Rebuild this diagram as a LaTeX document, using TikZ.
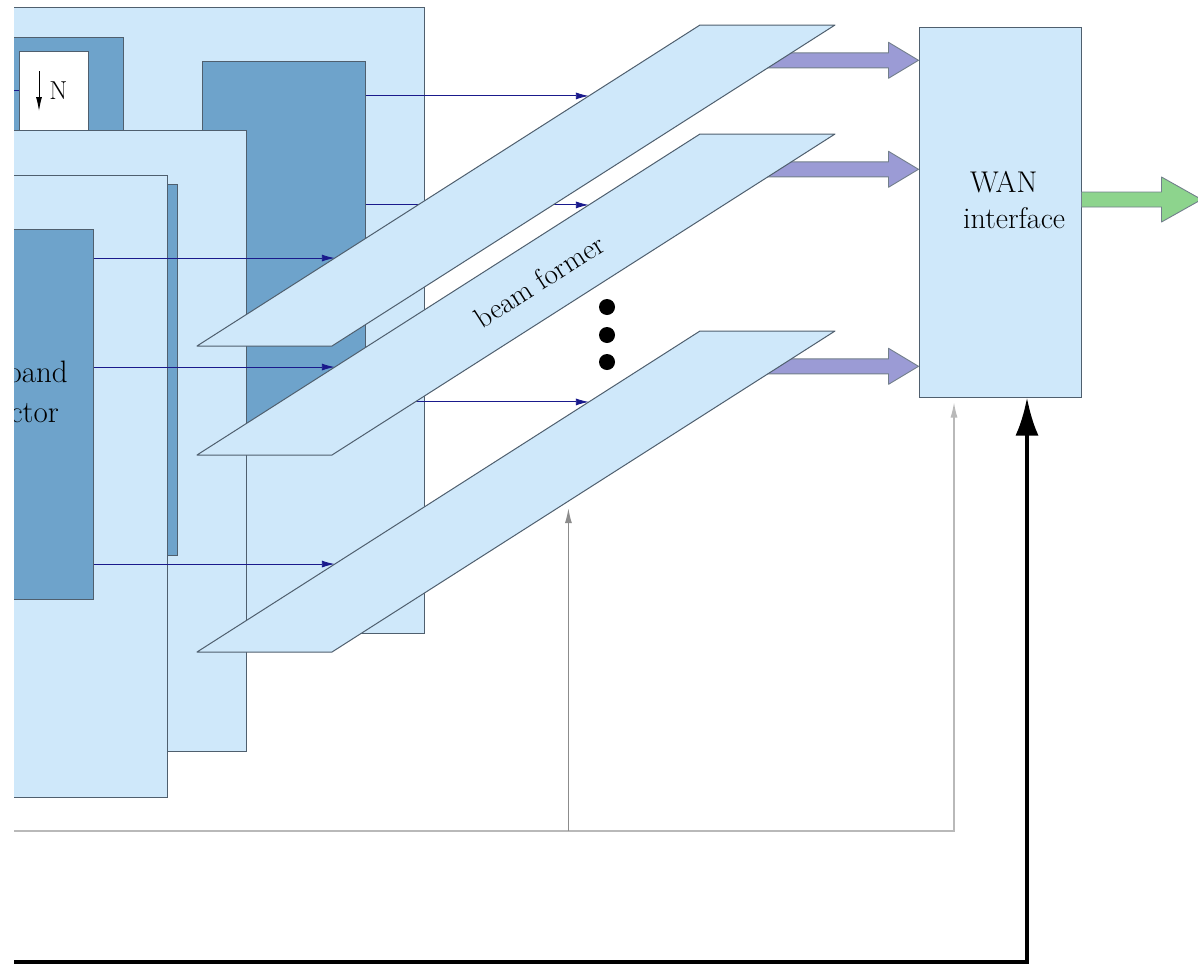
\documentclass[tikz,border=0pt]{standalone}
\usetikzlibrary{arrows.meta,calc}

\definecolor{tilefill}{HTML}{CFE8FA}
\definecolor{blockfill}{HTML}{6EA3CB}
\definecolor{edgecol}{HTML}{4F5F6E}
\definecolor{sigcol}{HTML}{1A1A8C}
\definecolor{beamout}{HTML}{9B9BD5}
\definecolor{wanout}{HTML}{8DD48D}

\tikzset{
  tile/.style={draw=edgecol, fill=tilefill, line width=1pt, inner sep=0pt},
  block/.style={draw=edgecol, fill=blockfill, line width=1pt, inner sep=0pt},
  sig/.style={draw=sigcol, line width=0.9pt, -{Latex[length=13pt,width=7pt]}},
  ctl/.style={line width=1.2pt, -{Latex[length=15pt,width=7pt]}},
  pwr/.style={draw=black, line width=4pt, -{Latex[length=38pt,width=23pt]}},
  plane/.style={draw=edgecol, fill=tilefill, line width=1pt, line join=round},
  fat/.style={draw=edgecol!80, line width=0.9pt, line join=round, fill=#1},
  dot/.style={circle, fill=black, inner sep=0pt, minimum size=16pt},
  txt/.style={font=\fontsize{27}{35}\selectfont, inner sep=0pt}
}

% block arrow: fill, tail, tip, half shaft, half head, head length
\newcommand{\fatarrow}[6]{%
  \draw[fat=#1] ($(#2)+(0,-#4)$) -- ($(#3)+(-#6,-#4)$) -- ($(#3)+(-#6,-#5)$)
    -- (#3) -- ($(#3)+(-#6,#5)$) -- ($(#3)+(-#6,#4)$) -- ($(#2)+(0,#4)$) -- cycle;}

\begin{document}
\begin{tikzpicture}[x=1pt,y=-1pt]
\useasboundingbox (0,0) rectangle (1198,964);
\begin{scope}
\clip (14,-10) rectangle (1198,964);

% beam former planes
\coordinate (A-bl) at (197,346); \coordinate (A-br) at (332,346);
\coordinate (A-tr) at (835,25);  \coordinate (A-tl) at (700,25);
\coordinate (B-bl) at (197,455); \coordinate (B-br) at (332,455);
\coordinate (B-tr) at (835,134); \coordinate (B-tl) at (700,134);
\coordinate (C-bl) at (197,652); \coordinate (C-br) at (332,652);
\coordinate (C-tr) at (835,331); \coordinate (C-tl) at (700,331);
% inputs on the left edges
\coordinate (A-in3) at ($(A-bl)!0.779!(A-tl)$);
\coordinate (B-in3) at ($(B-bl)!0.779!(B-tl)$);
\coordinate (C-in3) at ($(C-bl)!0.779!(C-tl)$);
\coordinate (A-in1) at ($(A-bl)!0.274!(A-tl)$);
\coordinate (B-in1) at ($(B-bl)!0.274!(B-tl)$);
\coordinate (C-in1) at ($(C-bl)!0.274!(C-tl)$);
% outputs on the right edges
\coordinate (A-out) at ($(A-br)!0.89!(A-tr)$);
\coordinate (B-out) at ($(B-br)!0.89!(B-tr)$);
\coordinate (C-out) at ($(C-br)!0.89!(C-tr)$);
\coordinate (C-ctl) at ($(C-br)!0.47!(C-tr)$);

% back tile
\node[tile, minimum width=464pt, minimum height=626pt] (tile3) at (192,320) {};
\node[block, minimum width=163pt, minimum height=263pt] (dec3) at (41.5,168.5) {};
\node[tile, fill=white, minimum width=69pt, minimum height=89pt] (nbox3) at (53.5,95.5) {};
\node[txt, font=\fontsize{26}{30}\selectfont] (nlbl) at (58.5,91) {N};
\coordinate (dn-a) at (39,71);
\coordinate (dn-b) at (39,111);
\draw[line width=1pt, -{Latex[length=14pt,width=6pt]}] (dn-a) -- (dn-b);
\coordinate (in3) at (-20,90);
\draw[sigcol, line width=0.9pt] (in3) -- (in3 -| nbox3.west);
\node[block, minimum width=163pt, minimum height=367pt] (filt3) at (283.5,244.5) {};
\path[draw,sig] (filt3.east |- A-in3) -- (A-in3);
\path[draw,sig] (filt3.east |- B-in3) -- (B-in3);
\path[draw,sig] (filt3.east |- C-in3) -- (C-in3);

% middle tile
\node[tile, minimum width=286pt, minimum height=621pt] (tile2) at (103,440.5) {};
\node[block, minimum width=77pt, minimum height=371pt] (filt2) at (138.5,369.5) {};

% front tile
\node[tile, minimum width=207pt, minimum height=622pt] (tile1) at (63.5,486) {};
\node[block, minimum width=133pt, minimum height=370pt] (dec1) at (26.5,414) {};
\node[txt, font=\fontsize{31}{40}\selectfont, anchor=base east] (sel1) at (68,382) {band};
\node[txt, font=\fontsize{31}{40}\selectfont, anchor=base east] (sel2) at (59,422) {ctor};
\path[draw,sig] (dec1.east |- A-in1) -- (A-in1);
\path[draw,sig] (dec1.east |- B-in1) -- (B-in1);
\path[draw,sig] (dec1.east |- C-in1) -- (C-in1);

% WAN interface
\node[tile, minimum width=162pt, minimum height=370pt] (wan) at (1000,212) {};
\node[txt, font=\fontsize{30}{36}\selectfont, align=left, anchor=west] (wanlbl) at (963,200) {\hspace*{7pt}WAN\\interface};

% beams into the WAN interface
\coordinate (A-tail) at ([xshift=-30pt]A-out);
\coordinate (B-tail) at ([xshift=-30pt]B-out);
\coordinate (C-tail) at ([xshift=-30pt]C-out);
\coordinate (A-tip) at (wan.west |- A-out);
\coordinate (B-tip) at (wan.west |- B-out);
\coordinate (C-tip) at (wan.west |- C-out);
\fatarrow{beamout}{A-tail}{A-tip}{7.5}{18}{30}
\fatarrow{beamout}{B-tail}{B-tip}{7.5}{18}{30}
\fatarrow{beamout}{C-tail}{C-tip}{7.5}{18}{30}
\coordinate (wan-out) at ([yshift=12.5pt]wan.east);
\coordinate (wan-tip) at ([xshift=120pt]wan-out);
\fatarrow{wanout}{wan-out}{wan-tip}{7.5}{22.5}{40}

\path[draw,plane] (A-bl) -- (A-br) -- (A-tr) -- (A-tl) -- cycle;
\path[draw,plane] (B-bl) -- (B-br) -- (B-tr) -- (B-tl) -- cycle;
\path[draw,plane] (C-bl) -- (C-br) -- (C-tr) -- (C-tl) -- cycle;
\node[txt, font=\fontsize{29}{35}\selectfont, rotate=32.6] (bflbl) at (539,281) {beam former};

\node[dot] (dot1) at (607,307) {};
\node[dot] (dot2) at (607,335) {};
\node[dot] (dot3) at (607,362) {};

% control and supply
\coordinate (fb-in) at (-20,831);
\coordinate (wan-ctl) at ($(wan.south)+(-46,0)$);
\path[draw,ctl,gray!55] (fb-in) -| (wan-ctl) [shorten >=5pt];
\path[draw,ctl,gray!90] (C-ctl |- fb-in) -- (C-ctl) [shorten >=7pt];
\coordinate (pwr-in) at (-20,962);
\coordinate (wan-pwr) at ($(wan.south)+(27,0)$);
\path[draw,pwr] (pwr-in) -| (wan-pwr);
\end{scope}
\end{tikzpicture}
\end{document}
